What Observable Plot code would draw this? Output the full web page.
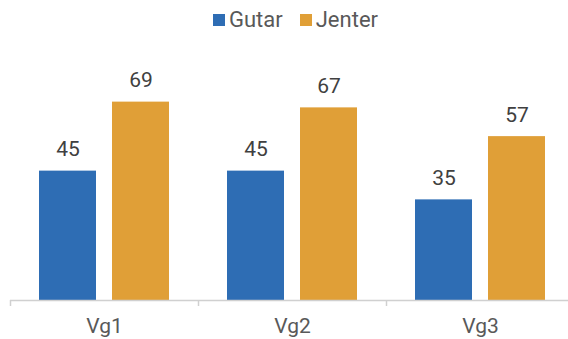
<!DOCTYPE html>
<html>
<head>
<meta charset="utf-8">
<script src="https://cdn.jsdelivr.net/npm/d3@7"></script>
<script src="https://cdn.jsdelivr.net/npm/@observablehq/plot@0.6"></script>
<style>
  html, body { margin: 0; padding: 0; background: #fff; overflow: hidden; width: 568px; height: 339px; }
  #wrap { position: relative; width: 568px; height: 339px; overflow: hidden; font-family: Roboto, "Noto Sans", sans-serif; }
  #legend { position: absolute; top: 5px; left: 213px; display: flex; align-items: center; font-size: 22px; color: #595959; line-height: 30px; white-space: nowrap; }
  .sw { width: 12px; height: 12px; display: inline-block; margin-right: 4px; }
  .item { display: flex; align-items: center; margin-right: 17px; }
  #chart { position: absolute; top: 0; left: 0; }
  #chart svg { max-width: none !important; }
</style>
</head>
<body>
<div id="wrap">
  <div id="chart"></div>
  <div id="legend"></div>
</div>
<script>
const groups = ["Vg1", "Vg2", "Vg3"];
const series = ["Gutar", "Jenter"];
const gutar = [45, 45, 35];
const jenter = [69, 67, 57];
const colors = ["#2e6db4", "#e09f37"];

const data = groups.flatMap((g, i) => [
  {group: g, series: "Gutar", value: gutar[i]},
  {group: g, series: "Jenter", value: jenter[i]}
]);

const chart = Plot.plot({
  width: 574,
  height: 339,
  marginLeft: 10,
  marginRight: 0,
  marginTop: 70,
  marginBottom: 39,
  style: {fontFamily: "Roboto, 'Noto Sans', sans-serif", background: "transparent", maxWidth: "none"},
  fx: {domain: groups, padding: 0, label: null, axis: null},
  x: {domain: series, paddingInner: 0.219, paddingOuter: 0.397, axis: null},
  y: {domain: [0, 80], axis: null},
  color: {domain: series, range: colors},
  marks: [
    Plot.barY(data, {fx: "group", x: "series", y: "value", fill: "series"}),
    Plot.text(data, {fx: "group", x: "series", y: "value", text: d => String(d.value),
      lineAnchor: "bottom", dy: -15, fontSize: 21, fill: "#404040"}),
    Plot.ruleY([0], {stroke: "#d0d0d0", strokeWidth: 1.5}),
    Plot.axisFx({anchor: "bottom", tickSize: 6, fill: "none", stroke: "#d0d0d0", strokeWidth: 1.5, dx: -94, label: null}),
    Plot.axisFx({anchor: "bottom", tickSize: 0, tickPadding: 18, fontSize: 21, fill: "#595959", label: null})
  ]
});
document.getElementById("chart").appendChild(chart);

const legend = document.getElementById("legend");
series.forEach((s, i) => {
  const item = document.createElement("span");
  item.className = "item";
  const sw = document.createElement("span");
  sw.className = "sw";
  sw.style.background = colors[i];
  item.appendChild(sw);
  item.appendChild(document.createTextNode(s));
  legend.appendChild(item);
});
</script>
</body>
</html>
